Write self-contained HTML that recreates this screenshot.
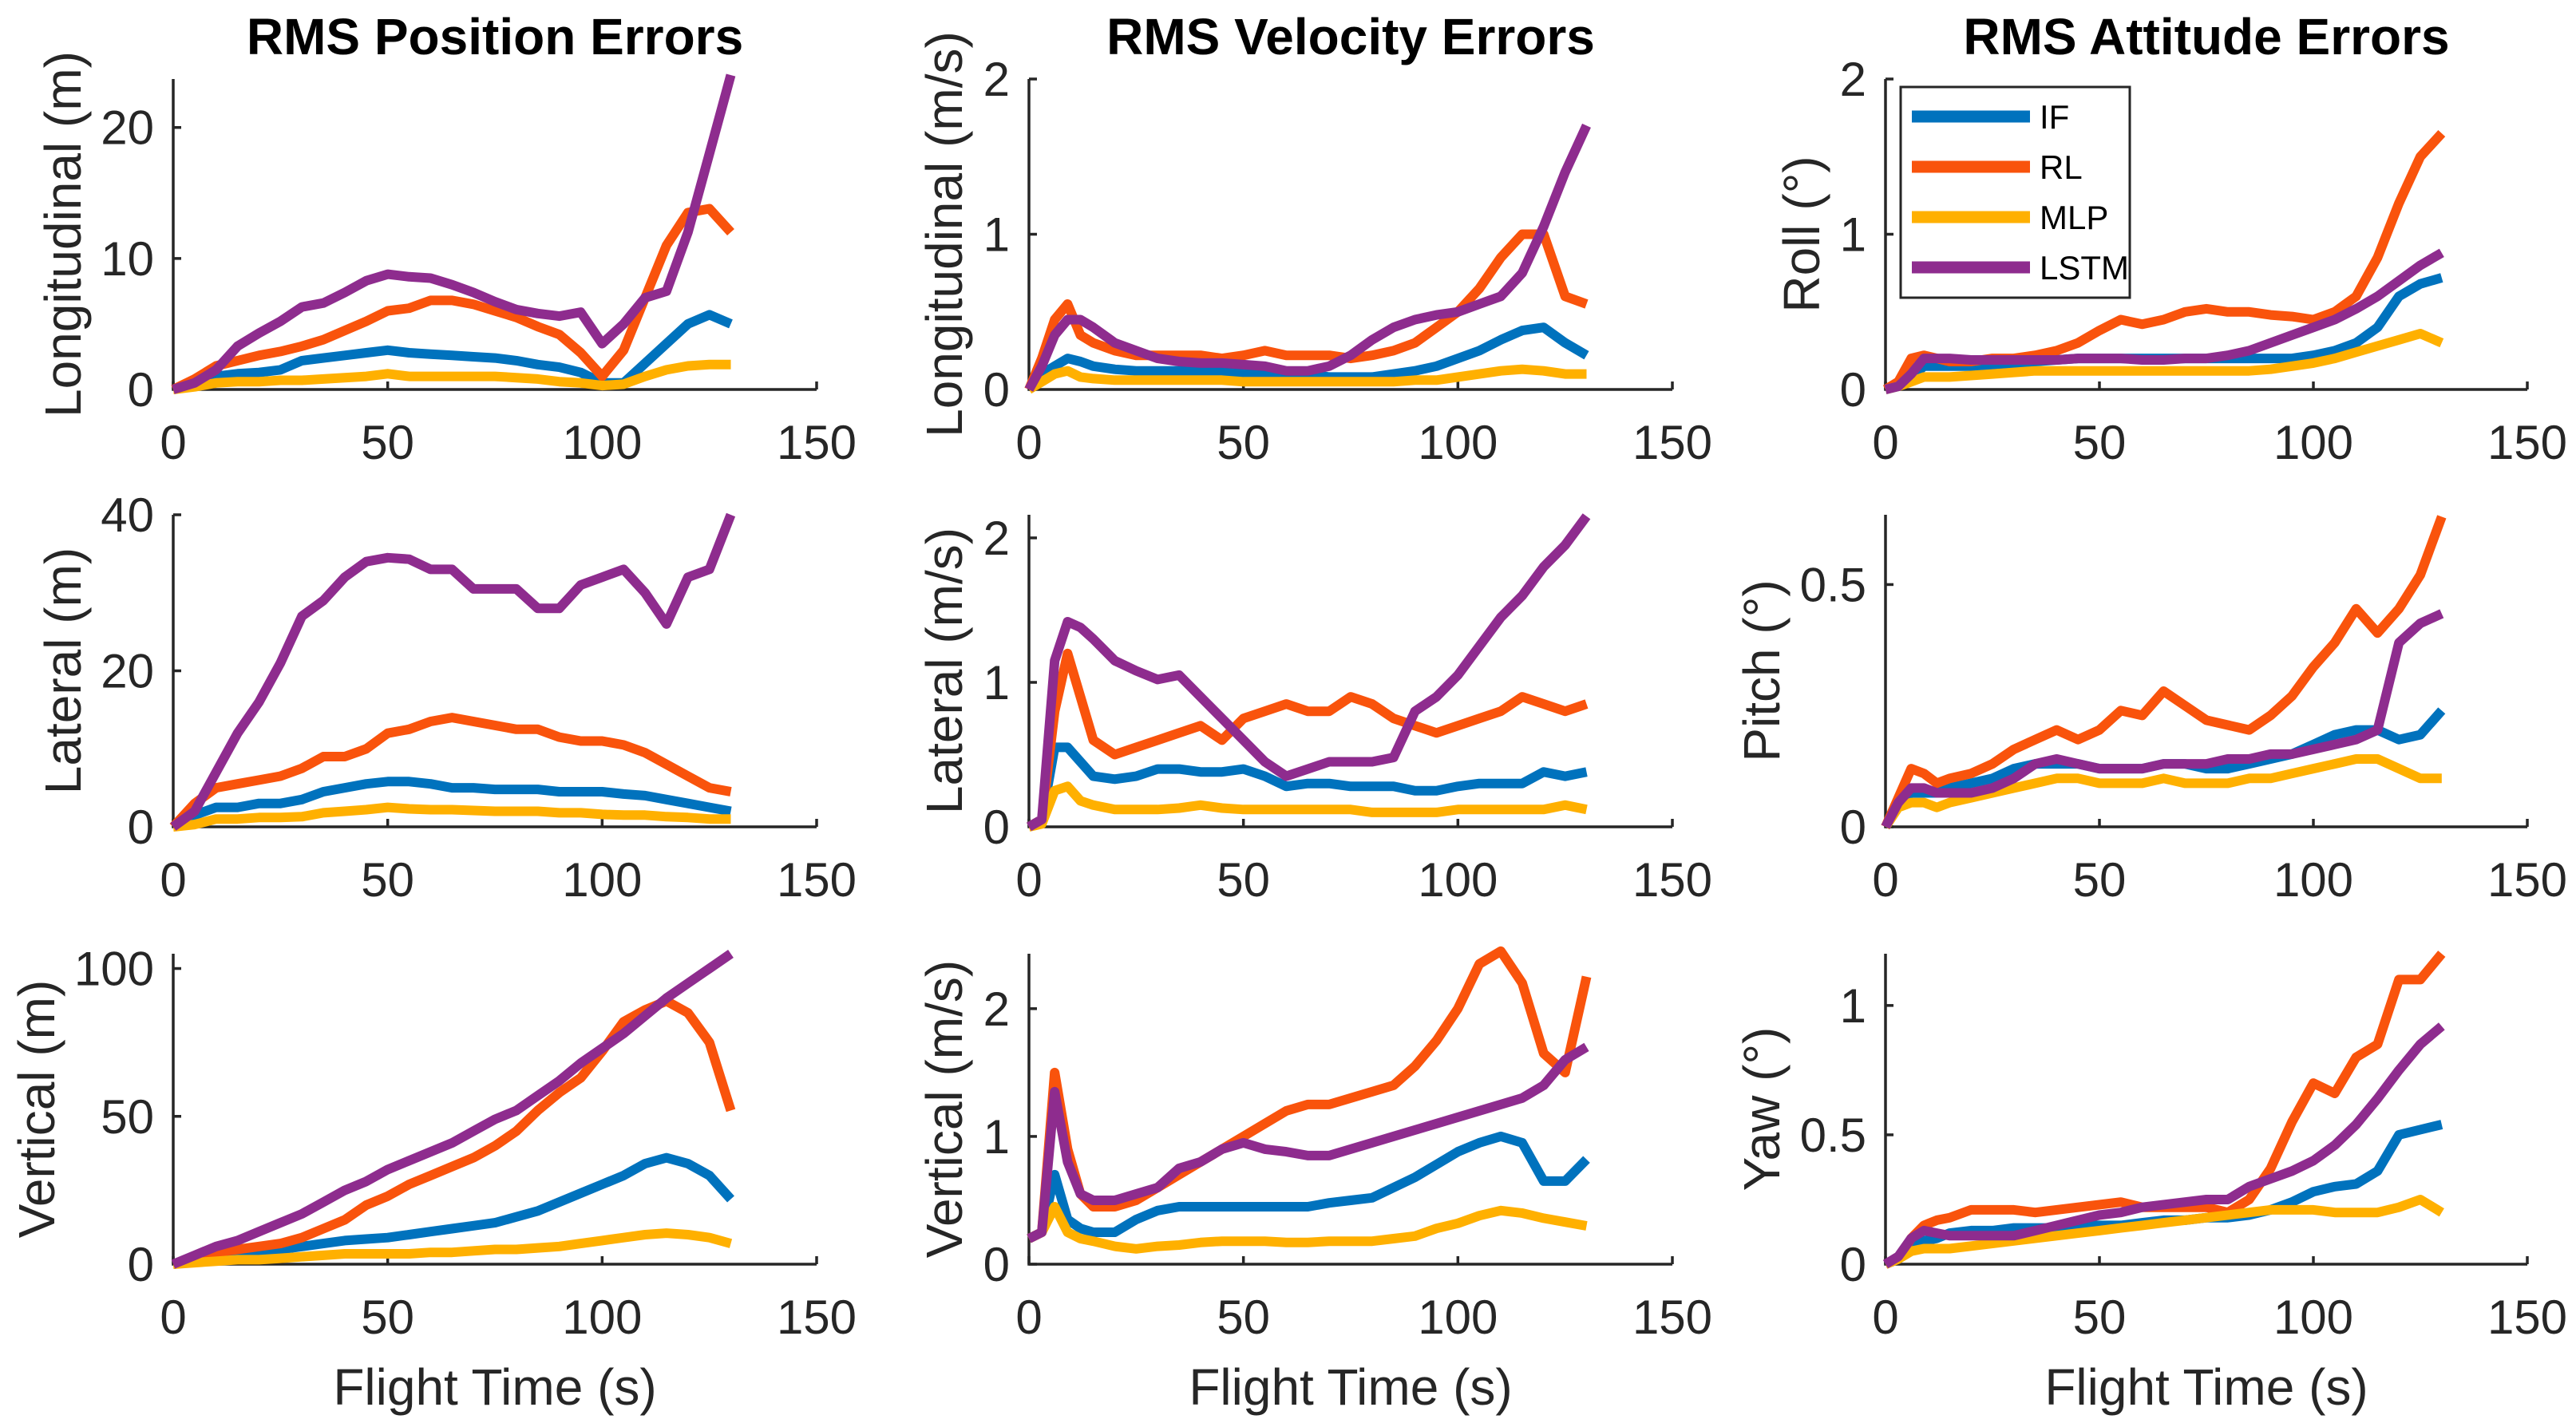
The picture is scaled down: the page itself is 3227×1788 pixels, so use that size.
<!DOCTYPE html>
<html><head><meta charset="utf-8"><style>
html,body{margin:0;padding:0;background:#fff;}
svg{display:block;}
text{font-family:"Liberation Sans",Arial,sans-serif;fill:#262626;}
</style></head><body>
<svg id="fig" width="3227" height="1788" viewBox="0 0 3227 1788" xmlns="http://www.w3.org/2000/svg"></svg>
<script>
// time samples (s)
const timeA = [0,5,10,15,20,25,30,35,40,45,50,55,60,65,70,75,80,85,90,95,100,105,110,115,120,125,130];
const timeB = [0,3,6,9,12,15,20,25,30,35,40,45,50,55,60,65,70,75,80,85,90,95,100,105,110,115,120,125,130];
const seriesNames = ["IF","RL","MLP","LSTM"];
const seriesColors = ["#0072BD","#F9530C","#FFB000","#8E2C8E"];
const xTicks = [0,50,100,150];

// Position
const posLonIF   = [0,0.5,1,1.2,1.3,1.5,2.2,2.4,2.6,2.8,3.0,2.8,2.7,2.6,2.5,2.4,2.2,1.9,1.7,1.3,0.5,0.5,2.0,3.5,5.0,5.7,5.0];
const posLonRL   = [0,0.8,1.8,2.2,2.6,2.9,3.3,3.8,4.5,5.2,6.0,6.2,6.8,6.8,6.5,6.0,5.5,4.8,4.2,2.8,1.0,3.0,7.0,11,13.5,13.8,12];
const posLonMLP  = [0,0.2,0.5,0.6,0.6,0.7,0.7,0.8,0.9,1.0,1.2,1.0,1.0,1.0,1.0,1.0,0.9,0.8,0.6,0.5,0.3,0.4,1.0,1.5,1.8,1.9,1.9];
const posLonLSTM = [0,0.5,1.5,3.3,4.3,5.2,6.3,6.6,7.4,8.3,8.8,8.6,8.5,8.0,7.4,6.7,6.1,5.8,5.6,5.9,3.5,5.0,7.0,7.5,12,18,24];
const posLatIF   = [0,1.5,2.5,2.5,3,3,3.5,4.5,5,5.5,5.8,5.8,5.5,5,5,4.8,4.8,4.8,4.5,4.5,4.5,4.2,4,3.5,3,2.5,2];
const posLatRL   = [0,3,5,5.5,6,6.5,7.5,9,9,10,12,12.5,13.5,14,13.5,13,12.5,12.5,11.5,11,11,10.5,9.5,8,6.5,5,4.5];
const posLatMLP  = [0,0.3,1,1,1.2,1.2,1.3,1.8,2,2.2,2.5,2.3,2.2,2.2,2.1,2,2,2,1.8,1.8,1.6,1.5,1.5,1.3,1.2,1,1];
const posLatLSTM = [0,2,7,12,16,21,27,29,32,34,34.5,34.3,33,33,30.5,30.5,30.5,28,28,31,32,33,30,26,32,33,40];
const posVerIF   = [0,1,2,3,4,5,6,7,8,8.5,9,10,11,12,13,14,16,18,21,24,27,30,34,36,34,30,22];
const posVerRL   = [0,2,4,5,6,7,9,12,15,20,23,27,30,33,36,40,45,52,58,63,72,82,86,89,85,75,52];
const posVerMLP  = [0,0.5,1,1.5,1.5,2,2.5,3,3.5,3.5,3.5,3.5,4,4,4.5,5,5,5.5,6,7,8,9,10,10.5,10,9,7];
const posVerLSTM = [0,3,6,8,11,14,17,21,25,28,32,35,38,41,45,49,52,57,62,68,73,78,84,90,95,100,105];

// Velocity
const velLonIF   = [0,0.1,0.15,0.2,0.18,0.15,0.13,0.12,0.12,0.12,0.12,0.12,0.1,0.1,0.1,0.1,0.08,0.08,0.08,0.1,0.12,0.15,0.2,0.25,0.32,0.38,0.4,0.3,0.22];
const velLonRL   = [0,0.2,0.45,0.55,0.35,0.3,0.25,0.22,0.22,0.22,0.22,0.2,0.22,0.25,0.22,0.22,0.22,0.2,0.22,0.25,0.3,0.4,0.5,0.65,0.85,1.0,1.0,0.6,0.55];
const velLonMLP  = [0,0.05,0.1,0.12,0.08,0.07,0.06,0.06,0.06,0.06,0.06,0.06,0.05,0.05,0.05,0.05,0.05,0.05,0.05,0.05,0.06,0.06,0.08,0.1,0.12,0.13,0.12,0.1,0.1];
const velLonLSTM = [0,0.15,0.35,0.45,0.45,0.4,0.3,0.25,0.2,0.18,0.17,0.17,0.16,0.15,0.12,0.12,0.15,0.22,0.32,0.4,0.45,0.48,0.5,0.55,0.6,0.75,1.05,1.4,1.7];
const velLatIF   = [0,0.05,0.55,0.55,0.45,0.35,0.33,0.35,0.4,0.4,0.38,0.38,0.4,0.35,0.28,0.3,0.3,0.28,0.28,0.28,0.25,0.25,0.28,0.3,0.3,0.3,0.38,0.35,0.38];
const velLatRL   = [0,0.05,0.8,1.2,0.9,0.6,0.5,0.55,0.6,0.65,0.7,0.6,0.75,0.8,0.85,0.8,0.8,0.9,0.85,0.75,0.7,0.65,0.7,0.75,0.8,0.9,0.85,0.8,0.85];
const velLatMLP  = [0,0.02,0.25,0.28,0.18,0.15,0.12,0.12,0.12,0.13,0.15,0.13,0.12,0.12,0.12,0.12,0.12,0.12,0.1,0.1,0.1,0.1,0.12,0.12,0.12,0.12,0.12,0.15,0.12];
const velLatLSTM = [0,0.05,1.15,1.42,1.38,1.3,1.15,1.08,1.02,1.05,0.9,0.75,0.6,0.45,0.35,0.4,0.45,0.45,0.45,0.48,0.8,0.9,1.05,1.25,1.45,1.6,1.8,1.95,2.15];
const velVerIF   = [0.2,0.25,0.7,0.35,0.28,0.25,0.25,0.35,0.42,0.45,0.45,0.45,0.45,0.45,0.45,0.45,0.48,0.5,0.52,0.6,0.68,0.78,0.88,0.95,1.0,0.95,0.65,0.65,0.82];
const velVerRL   = [0.2,0.25,1.5,0.9,0.55,0.45,0.45,0.5,0.6,0.7,0.8,0.9,1.0,1.1,1.2,1.25,1.25,1.3,1.35,1.4,1.55,1.75,2.0,2.35,2.45,2.2,1.65,1.5,2.25];
const velVerMLP  = [0.2,0.25,0.45,0.25,0.2,0.18,0.14,0.12,0.14,0.15,0.17,0.18,0.18,0.18,0.17,0.17,0.18,0.18,0.18,0.2,0.22,0.28,0.32,0.38,0.42,0.4,0.36,0.33,0.3];
const velVerLSTM = [0.2,0.25,1.35,0.8,0.55,0.5,0.5,0.55,0.6,0.75,0.8,0.9,0.95,0.9,0.88,0.85,0.85,0.9,0.95,1.0,1.05,1.1,1.15,1.2,1.25,1.3,1.4,1.6,1.7];

// Attitude
const attRolIF   = [0,0.02,0.08,0.15,0.15,0.15,0.15,0.16,0.17,0.18,0.19,0.2,0.2,0.2,0.2,0.2,0.2,0.2,0.2,0.2,0.2,0.2,0.22,0.25,0.3,0.4,0.6,0.68,0.72];
const attRolRL   = [0,0.05,0.2,0.22,0.2,0.18,0.18,0.2,0.2,0.22,0.25,0.3,0.38,0.45,0.42,0.45,0.5,0.52,0.5,0.5,0.48,0.47,0.45,0.5,0.6,0.85,1.2,1.5,1.65];
const attRolMLP  = [0,0.02,0.05,0.08,0.08,0.08,0.09,0.1,0.11,0.12,0.12,0.12,0.12,0.12,0.12,0.12,0.12,0.12,0.12,0.12,0.13,0.15,0.17,0.2,0.24,0.28,0.32,0.36,0.3];
const attRolLSTM = [0,0.02,0.1,0.2,0.2,0.2,0.19,0.19,0.19,0.19,0.19,0.2,0.2,0.2,0.19,0.19,0.2,0.2,0.22,0.25,0.3,0.35,0.4,0.45,0.52,0.6,0.7,0.8,0.88];
const attPitIF   = [0,0.05,0.07,0.07,0.07,0.08,0.09,0.1,0.12,0.13,0.13,0.13,0.12,0.12,0.12,0.13,0.13,0.12,0.12,0.13,0.14,0.15,0.17,0.19,0.2,0.2,0.18,0.19,0.24];
const attPitRL   = [0,0.06,0.12,0.11,0.09,0.1,0.11,0.13,0.16,0.18,0.2,0.18,0.2,0.24,0.23,0.28,0.25,0.22,0.21,0.2,0.23,0.27,0.33,0.38,0.45,0.4,0.45,0.52,0.64];
const attPitMLP  = [0,0.04,0.05,0.05,0.04,0.05,0.06,0.07,0.08,0.09,0.1,0.1,0.09,0.09,0.09,0.1,0.09,0.09,0.09,0.1,0.1,0.11,0.12,0.13,0.14,0.14,0.12,0.1,0.1];
const attPitLSTM = [0,0.05,0.08,0.08,0.07,0.07,0.07,0.08,0.1,0.13,0.14,0.13,0.12,0.12,0.12,0.13,0.13,0.13,0.14,0.14,0.15,0.15,0.16,0.17,0.18,0.2,0.38,0.42,0.44];
const attYawIF   = [0,0.02,0.07,0.09,0.1,0.12,0.13,0.13,0.14,0.14,0.14,0.15,0.15,0.15,0.16,0.17,0.17,0.18,0.18,0.19,0.21,0.24,0.28,0.3,0.31,0.36,0.5,0.52,0.54];
const attYawRL   = [0,0.02,0.1,0.15,0.17,0.18,0.21,0.21,0.21,0.2,0.21,0.22,0.23,0.24,0.22,0.22,0.22,0.22,0.2,0.25,0.37,0.55,0.7,0.66,0.8,0.85,1.1,1.1,1.2];
const attYawMLP  = [0,0.02,0.05,0.06,0.06,0.06,0.07,0.08,0.09,0.1,0.11,0.12,0.13,0.14,0.15,0.16,0.17,0.18,0.19,0.2,0.21,0.21,0.21,0.2,0.2,0.2,0.22,0.25,0.2];
const attYawLSTM = [0,0.03,0.1,0.13,0.12,0.11,0.11,0.11,0.11,0.13,0.15,0.17,0.19,0.2,0.22,0.23,0.24,0.25,0.25,0.3,0.33,0.36,0.4,0.46,0.54,0.64,0.75,0.85,0.92];

// axis limits / ticks
const yMaxes = [[23.7,2,2],[40,2.16,0.644],[105,2.43,1.2]];
const yTicks = [[[0,10,20],[0,1,2],[0,1,2]],[[0,20,40],[0,1,2],[0,0.5]],[[0,50,100],[0,1,2],[0,0.5,1]]];
const yLabels = [["Longitudinal (m)","Longitudinal (m/s)","Roll (\u00B0)"],["Lateral (m)","Lateral (m/s)","Pitch (\u00B0)"],["Vertical (m)","Vertical (m/s)","Yaw (\u00B0)"]];
const titles = ["RMS Position Errors","RMS Velocity Errors","RMS Attitude Errors"];
const panelTimes = [[timeA,timeB,timeB],[timeA,timeB,timeB],[timeA,timeB,timeB]];
const panelData = [
  [[posLonIF,posLonRL,posLonMLP,posLonLSTM],[velLonIF,velLonRL,velLonMLP,velLonLSTM],[attRolIF,attRolRL,attRolMLP,attRolLSTM]],
  [[posLatIF,posLatRL,posLatMLP,posLatLSTM],[velLatIF,velLatRL,velLatMLP,velLatLSTM],[attPitIF,attPitRL,attPitMLP,attPitLSTM]],
  [[posVerIF,posVerRL,posVerMLP,posVerLSTM],[velVerIF,velVerRL,velVerMLP,velVerLSTM],[attYawIF,attYawRL,attYawMLP,attYawLSTM]]
];

const NS = "http://www.w3.org/2000/svg";
const svg = document.getElementById("fig");
const colL = [217,1289,2362], colR = [1023,2095,3166];
const rowT = [99,645,1195], rowB = [488,1036,1584];
const ylabBase = [[101,1205,2279],[101,1205,2229],[68,1205,2229]];
function mk(tag, attrs, parent){const e=document.createElementNS(NS,tag);for(const k in attrs)e.setAttribute(k,attrs[k]);(parent||svg).appendChild(e);return e;}

for(let c=0;c<3;c++){
  const t = mk("text",{x:(colL[c]+colR[c])/2,y:68,"text-anchor":"middle","font-size":64,"font-weight":"bold"});
  t.style.fill="#000";
  t.textContent = titles[c];
  
  
  const xl = mk("text",{x:(colL[c]+colR[c])/2,y:1760,"text-anchor":"middle","font-size":64});
  xl.textContent = "Flight Time (s)";
  
  
}

for(let r=0;r<3;r++){
  for(let c=0;c<3;c++){
    const g = mk("g",{});
    
    
    const L=colL[c],R=colR[c],T=rowT[r],B=rowB[r],ym=yMaxes[r][c];
    const sx = v => L + v/150*(R-L);
    const sy = v => B - v/ym*(B-T);
    // axes
    const ax = mk("path",{d:`M${L},${T} L${L},${B} L${R},${B}`,fill:"none",stroke:"#262626","stroke-width":3.5},g);
    
    
    xTicks.forEach(v=>{
      mk("line",{x1:sx(v),x2:sx(v),y1:B,y2:B-10,stroke:"#262626","stroke-width":3.5},g);
      const tl = mk("text",{x:sx(v),y:B+87,"text-anchor":"middle","font-size":60},g);
      tl.textContent = v;
      
      
    });
    yTicks[r][c].forEach(v=>{
      mk("line",{x1:L,x2:L+10,y1:sy(v),y2:sy(v),stroke:"#262626","stroke-width":3.5},g);
      const tl = mk("text",{x:L-24,y:sy(v)+21,"text-anchor":"end","font-size":60},g);
      tl.textContent = v;
      
      
    });
    const yb = ylabBase[r][c], yc=(T+B)/2;
    const yl = mk("text",{x:yb,y:yc,"text-anchor":"middle","font-size":64,transform:`rotate(-90 ${yb} ${yc})`},g);
    yl.textContent = yLabels[r][c];
    
    
    const times = panelTimes[r][c];
    panelData[r][c].forEach((arr,i)=>{
      const d = arr.map((v,k)=>(k?"L":"M")+sx(times[k]).toFixed(1)+","+sy(v).toFixed(1)).join(" ");
      const p = mk("path",{d:d,fill:"none",stroke:seriesColors[i],"stroke-width":12,"stroke-linejoin":"round"},g);
      
      
    });
  }
}

// legend
const lg = mk("g",{});


mk("rect",{x:2381,y:109,width:287,height:264,fill:"#fff",stroke:"#262626","stroke-width":3},lg);
const legY = [146,209,272,335];
seriesNames.forEach((n,i)=>{
  const e = mk("g",{},lg);
  
  
  mk("line",{x1:2395,x2:2543,y1:legY[i],y2:legY[i],stroke:seriesColors[i],"stroke-width":15},e);
  const t = mk("text",{x:2555,y:legY[i]+15,"font-size":42},e);
  t.style.fill="#000";
  t.textContent = n;
});
</script>
</body></html>
